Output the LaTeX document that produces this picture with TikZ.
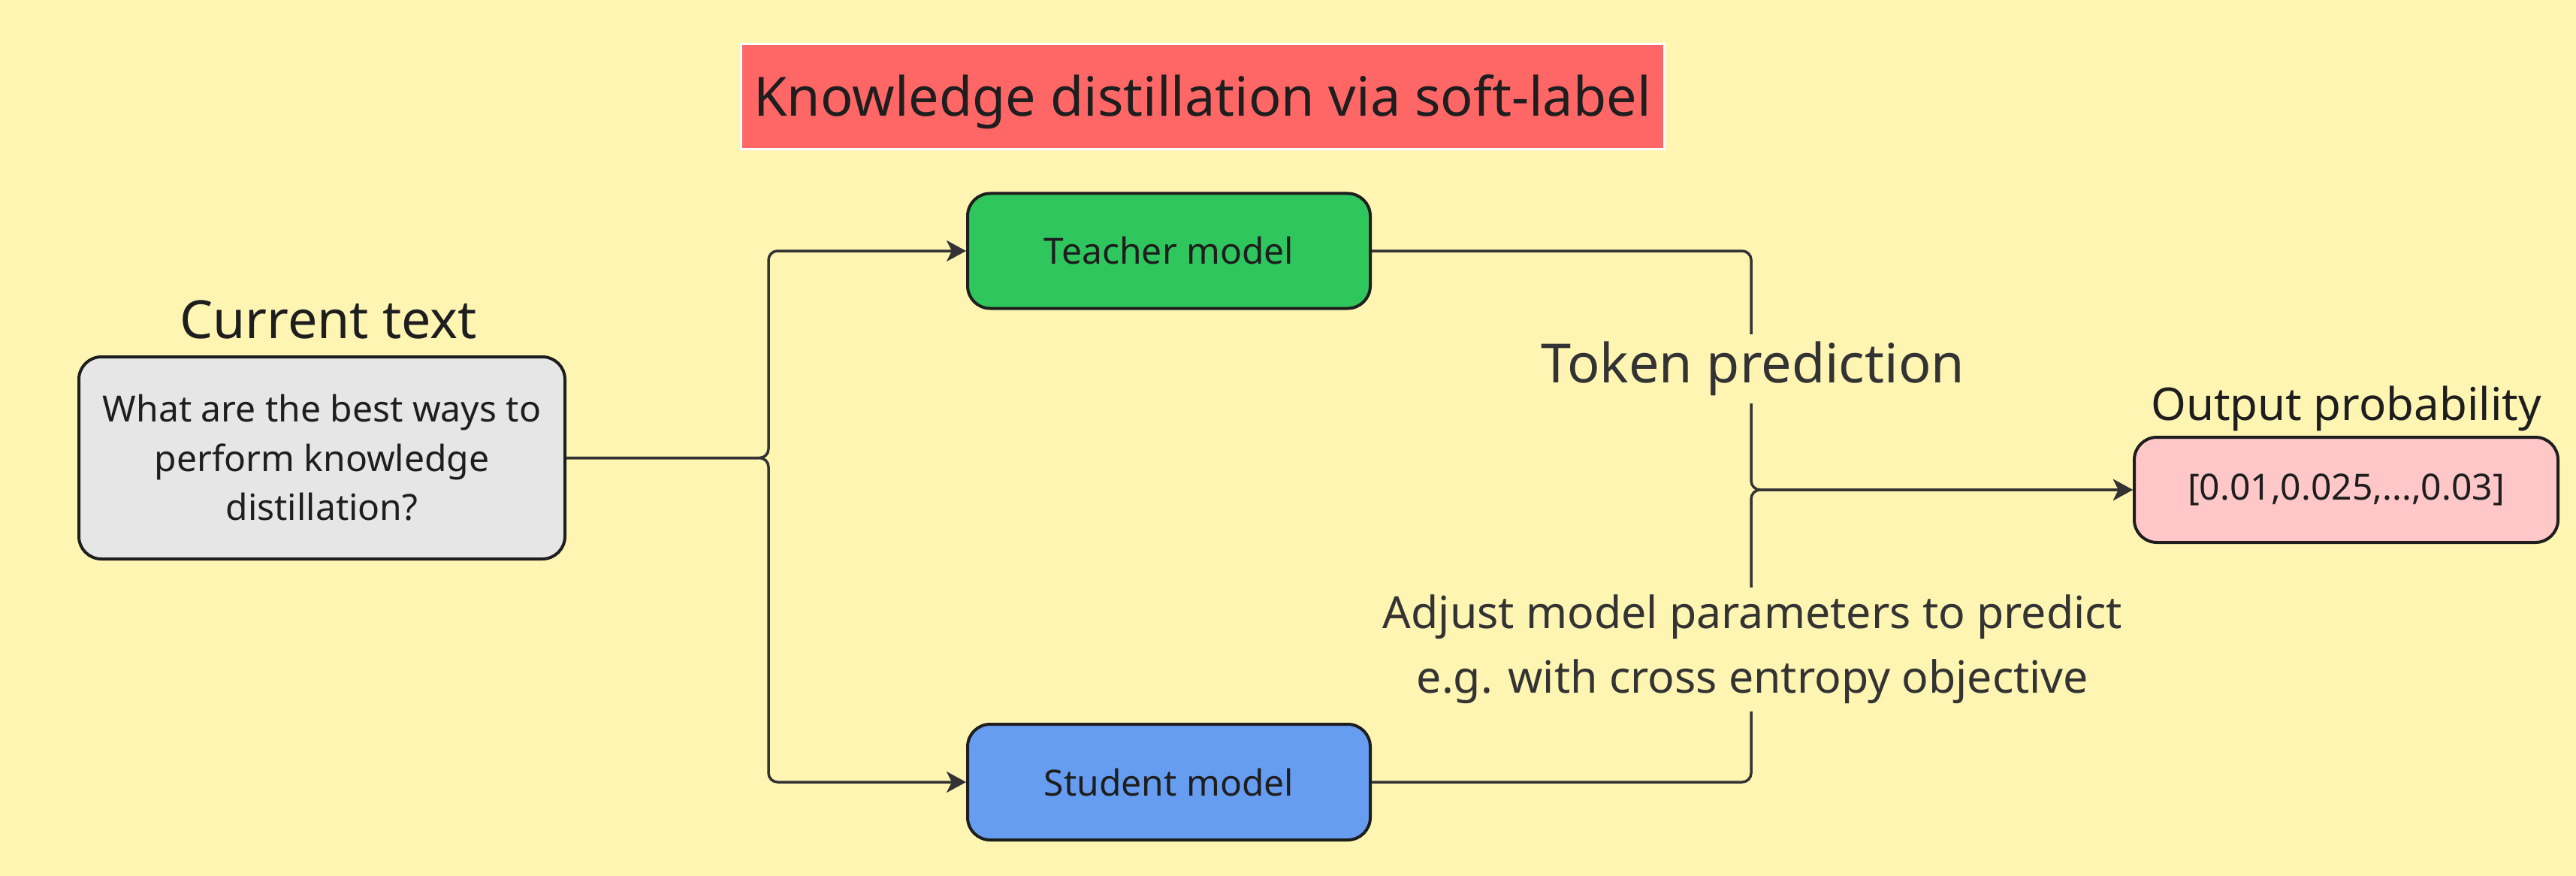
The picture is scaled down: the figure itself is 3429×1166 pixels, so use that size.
\documentclass[tikz,border=0pt]{standalone}
\usepackage{fontspec}
\setmainfont{Noto Sans}
\usetikzlibrary{arrows.meta}
\definecolor{bg}{HTML}{FFF5B3}
\definecolor{ink}{HTML}{1E1E1E}
\definecolor{wire}{HTML}{333333}
\definecolor{titlered}{HTML}{FF6666}
\definecolor{greybox}{HTML}{E6E6E6}
\definecolor{teachergreen}{HTML}{2FC65E}
\definecolor{studentblue}{HTML}{679DF0}
\definecolor{outpink}{HTML}{FFC7C7}
\tikzset{
  modelbox/.style={draw=ink, line width=4pt, rounded corners=30pt, inner sep=0pt, align=center, text=ink},
  conn/.style={draw=wire, line width=3.5pt, rounded corners=12pt},
  arr/.style={-{Stealth[length=26pt,width=28pt,inset=7pt]}},
  lbl/.style={text=ink, inner sep=0pt},
  wirelbl/.style={text=wire, fill=bg, inner xsep=8pt, inner ysep=10pt, align=center}
}
\begin{document}
\begin{tikzpicture}[x=1pt,y=-1pt]
\fill[bg] (0,0) rectangle (3429,1166);
\useasboundingbox (0,0) rectangle (3429,1166);

% title
\node[draw=white, line width=3pt, fill=titlered, minimum width=1229pt, minimum height=140pt, inner sep=0pt, text=ink,
      font=\fontsize{72}{86}\selectfont] (title) at (1600.5,129) {\raisebox{-26pt}[0pt][0pt]{Knowledge distillation via soft-label}};

% boxes
\node[modelbox, fill=greybox, minimum width=647pt, minimum height=269pt,
      font=\fontsize{48}{65.5}\selectfont] (q) at (428.5,609.5)
      {What are the best ways to\\perform knowledge\\distillation?};
\node[modelbox, fill=teachergreen, minimum width=536pt, minimum height=153pt,
      font=\fontsize{48}{58}\selectfont] (t) at (1556,334) {Teacher model};
\node[modelbox, fill=studentblue, minimum width=536pt, minimum height=154pt,
      font=\fontsize{48}{58}\selectfont] (s) at (1556,1041) {Student model};
\node[modelbox, fill=outpink, minimum width=564pt, minimum height=140pt,
      font=\fontsize{48}{58}\selectfont] (o) at (3123,652) {[0.01,0.025,...,0.03]};

% labels above boxes
\node[lbl, anchor=base, font=\fontsize{70}{84}\selectfont] (ct) at (437,450) {Current text};
\node[lbl, anchor=base, font=\fontsize{60}{72}\selectfont] (op) at (3123,559) {Output probability};

% connector junctions
\path (q.east) ++(269,0) coordinate (split);
\path (o.west) ++(-508,0) coordinate (merge);

% left connectors
\draw[conn,arr] (q.east) -- (split) |- (t.west);
\draw[conn,arr] (q.east) -- (split) |- (s.west);

% right connectors
\draw[conn,arr] (t.east) -| (merge) -- (o.west);
\draw[conn,arr] (s.east) -| (merge) -- (o.west);

% labels on wires
\node[wirelbl, font=\fontsize{72}{86}\selectfont] (tp) at (2333,491) {Token prediction};
\node[wirelbl, font=\fontsize{59}{86}\selectfont] (adj) at (2333,864)
      {Adjust model parameters to predict\\e.g. with cross entropy objective};
\end{tikzpicture}
\end{document}
